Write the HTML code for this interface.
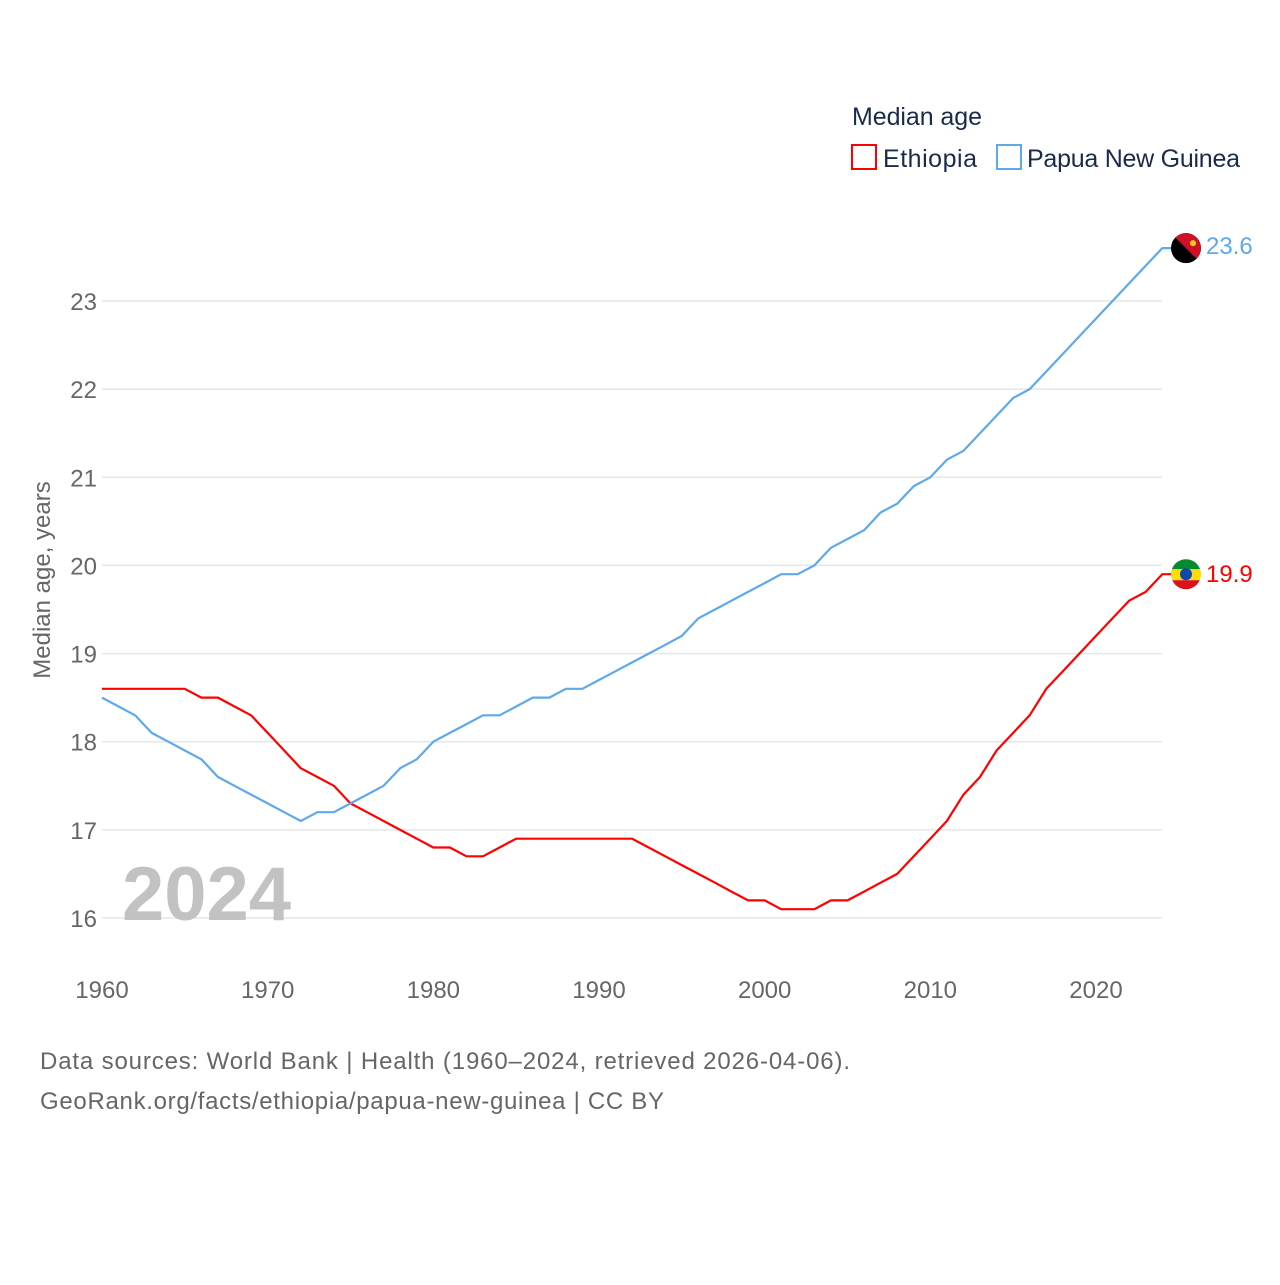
<!DOCTYPE html>
<html><head><meta charset="utf-8"><style>
body{margin:0;background:#fff;font-family:"Liberation Sans",sans-serif}
svg text{font-family:"Liberation Sans",sans-serif}
</style></head><body>
<svg id="chart" width="1280" height="1280" xmlns="http://www.w3.org/2000/svg">
<rect width="1280" height="1280" fill="#fff"/>
<g id="grid"></g>
<g id="yticks"></g>
<g id="xticks"></g>
<text transform="translate(50,580) rotate(-90)" text-anchor="middle" font-size="24" fill="#666">Median age, years</text>
<text x="122" y="920" font-size="76" font-weight="bold" fill="#c2c2c2">2024</text>
<g id="lines"></g>
<g id="ends"></g>
<g>
<text x="852" y="125" font-size="25" fill="#1a2b4a" textLength="130">Median age</text>
<g>
<rect x="852" y="145" width="24" height="24" fill="none" stroke="#ff0000" stroke-width="2"/>
<text x="883" y="167" font-size="25" fill="#1a2b4a" textLength="94">Ethiopia</text></g>
<g>
<rect x="997" y="145" width="24" height="24" fill="none" stroke="#5ea8ec" stroke-width="2"/>
<text x="1027" y="167" font-size="25" fill="#1a2b4a" textLength="213">Papua New Guinea</text></g>
</g>
<text x="40" y="1069" font-size="24" fill="#666" textLength="810">Data sources: World Bank | Health (1960–2024, retrieved 2026-04-06).</text>
<text x="40" y="1109" font-size="24" fill="#666" textLength="624">GeoRank.org/facts/ethiopia/papua-new-guinea | CC BY</text>
</svg>
<script>
const years=[];for(let y=1960;y<=2024;y++)years.push(y);
const ethiopia=[18.6,18.6,18.6,18.6,18.6,18.6,18.5,18.5,18.4,18.3,18.1,17.9,17.7,17.6,17.5,17.3,17.2,17.1,17.0,16.9,16.8,16.8,16.7,16.7,16.8,16.9,16.9,16.9,16.9,16.9,16.9,16.9,16.9,16.8,16.7,16.6,16.5,16.4,16.3,16.2,16.2,16.1,16.1,16.1,16.2,16.2,16.3,16.4,16.5,16.7,16.9,17.1,17.4,17.6,17.9,18.1,18.3,18.6,18.8,19.0,19.2,19.4,19.6,19.7,19.9];
const png=[18.5,18.4,18.3,18.1,18.0,17.9,17.8,17.6,17.5,17.4,17.3,17.2,17.1,17.2,17.2,17.3,17.4,17.5,17.7,17.8,18.0,18.1,18.2,18.3,18.3,18.4,18.5,18.5,18.6,18.6,18.7,18.8,18.9,19.0,19.1,19.2,19.4,19.5,19.6,19.7,19.8,19.9,19.9,20.0,20.2,20.3,20.4,20.6,20.7,20.9,21.0,21.2,21.3,21.5,21.7,21.9,22.0,22.2,22.4,22.6,22.8,23.0,23.2,23.4,23.6];
const yTicks=[16,17,18,19,20,21,22,23];
const xTicks=[1960,1970,1980,1990,2000,2010,2020];
const NS="http://www.w3.org/2000/svg";
const xs=y=>102+(y-1960)*(1096-102)/60;
const ys=v=>918-(v-16)*(918-301)/7;
function mk(tag,attrs,parent){const e=document.createElementNS(NS,tag);for(const k in attrs)e.setAttribute(k,attrs[k]);parent.appendChild(e);return e;}
const grid=document.getElementById('grid'),yt=document.getElementById('yticks'),xt=document.getElementById('xticks');
yTicks.forEach(v=>{
 const l=mk('line',{x1:102,x2:1162,y1:ys(v),y2:ys(v),stroke:'#e6e6e6','stroke-width':1.5},grid);
 
 
 const t=mk('text',{x:97,y:ys(v)+9,'text-anchor':'end','font-size':24,fill:'#666'},yt);
 t.textContent=v;
 
 
});
xTicks.forEach(v=>{
 const t=mk('text',{x:xs(v),y:998,'text-anchor':'middle','font-size':24,fill:'#666'},xt);
 t.textContent=v;
 
 
});
const lines=document.getElementById('lines'),ends=document.getElementById('ends');
[[ethiopia,'#ff0000','ethiopia-line',-1],[png,'#5ea8ec','papua-new-guinea-line',-3]].forEach(([d,c,n,dy])=>{
 let p=d.map((v,i)=>(i?'L':'M')+xs(years[i]).toFixed(1)+','+ys(v).toFixed(1)).join(' ');
 const last=d[d.length-1];
 p+=' L'+(xs(years[years.length-1])+10)+','+ys(last).toFixed(1);
 const e=mk('path',{d:p,fill:'none',stroke:c,'stroke-width':2.2,'stroke-linejoin':'round'},lines);
 
 
 const lbl=mk('text',{x:1206,y:ys(last)+9+dy,'font-size':24,fill:c},ends);
 lbl.textContent=last.toFixed(1);
 
 
});
const cy1=ys(png[png.length-1]),cy2=ys(ethiopia[ethiopia.length-1]);
const f=document.createElementNS(NS,'g');


f.innerHTML=`<defs><clipPath id="c1"><circle cx="1186" cy="${cy1}" r="15"/></clipPath><clipPath id="c2"><circle cx="1186" cy="${cy2}" r="15"/></clipPath></defs>
<g clip-path="url(#c1)"><rect x="1170" y="${cy1-16}" width="32" height="32" fill="#000"/><polygon points="1170,${cy1-16} 1202,${cy1-16} 1202,${cy1+16}" fill="#ce1126"/><circle cx="1193" cy="${cy1-5}" r="3" fill="#fcd116"/></g>
<g clip-path="url(#c2)"><rect x="1170" y="${cy2-16}" width="32" height="11" fill="#078930"/><rect x="1170" y="${cy2-5}" width="32" height="11" fill="#fcdd09"/><rect x="1170" y="${cy2+6}" width="32" height="11" fill="#da121a"/><circle cx="1186" cy="${cy2}" r="6" fill="#0f47af"/></g>`;
document.getElementById('chart').appendChild(f);
</script>
</body></html>
